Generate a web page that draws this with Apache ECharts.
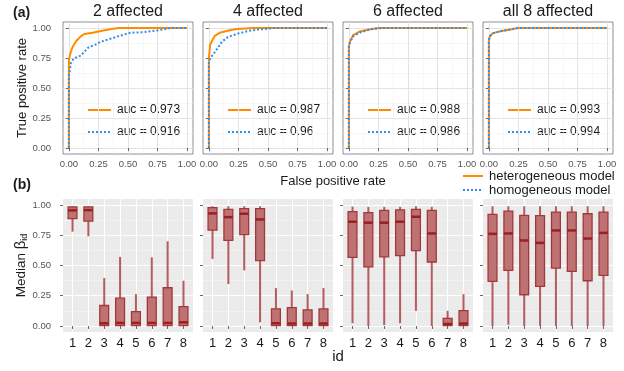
<!DOCTYPE html>
<html>
<head>
<meta charset="utf-8">
<script src="https://cdn.jsdelivr.net/npm/echarts@6/dist/echarts.min.js"></script>
<style>
  html, body { margin: 0; padding: 0; background: #fff; }
  #chart { width: 624px; height: 371px; }
</style>
</head>
<body>
<div id="chart"></div>
<script>
var FONT = '"Liberation Sans", Arial, sans-serif';

// (a) ROC curves, points are [false positive rate, true positive rate]
var panelTitles = ['2 affected', '4 affected', '6 affected', 'all 8 affected'];
var hetRoc2 = [[0, 0], [0, 0.73], [0.01, 0.78], [0.03, 0.84], [0.06, 0.89], [0.1, 0.93], [0.13, 0.95], [0.2, 0.96], [0.27, 0.975], [0.35, 0.99], [0.42, 1], [1, 1]];
var homRoc2 = [[0, 0], [0, 0.6], [0.017, 0.71], [0.04, 0.745], [0.1, 0.77], [0.13, 0.8], [0.16, 0.835], [0.22, 0.86], [0.27, 0.885], [0.35, 0.91], [0.43, 0.935], [0.52, 0.96], [0.63, 0.965], [0.75, 0.98], [0.86, 1], [1, 1]];
var hetRoc4 = [[0, 0], [0, 0.75], [0.01, 0.86], [0.03, 0.9], [0.05, 0.935], [0.09, 0.96], [0.15, 0.975], [0.22, 0.99], [0.37, 1], [1, 1]];
var homRoc4 = [[0, 0], [0, 0.72], [0.02, 0.76], [0.05, 0.8], [0.08, 0.84], [0.11, 0.885], [0.16, 0.925], [0.25, 0.955], [0.33, 0.975], [0.45, 0.99], [0.55, 1], [1, 1]];
var hetRoc6 = [[0, 0], [0, 0.85], [0.01, 0.89], [0.036, 0.94], [0.09, 0.97], [0.18, 0.99], [0.25, 1], [1, 1]];
var homRoc6 = [[0, 0], [0, 0.84], [0.01, 0.885], [0.04, 0.935], [0.1, 0.965], [0.19, 0.99], [0.27, 1], [1, 1]];
var hetRoc8 = [[0, 0], [0, 0.91], [0.01, 0.93], [0.03, 0.955], [0.085, 0.97], [0.17, 0.985], [0.25, 1], [1, 1]];
var homRoc8 = [[0, 0], [0, 0.9], [0.01, 0.935], [0.03, 0.955], [0.09, 0.972], [0.17, 0.986], [0.24, 1], [1, 1]];
var aucHet = ['0.973', '0.987', '0.988', '0.993'];
var aucHom = ['0.916', '0.96', '0.986', '0.994'];
var rateTicks = [0, 0.25, 0.5, 0.75, 1];
var rateMinor = [0.125, 0.375, 0.625, 0.875];

// (b) median beta per id, each row is [low, q1, median, q3, high]
var ids = [1, 2, 3, 4, 5, 6, 7, 8];
var box2 = [[0.78, 0.887, 0.956, 0.985, 0.99], [0.742, 0.867, 0.958, 0.985, 0.99], [0, 0.002, 0.022, 0.169, 0.396], [0, 0.002, 0.025, 0.23, 0.571], [0, 0.002, 0.025, 0.119, 0.263], [0, 0.002, 0.025, 0.239, 0.568], [0, 0.002, 0.025, 0.316, 0.70], [0, 0.002, 0.03, 0.16, 0.374]];
var box4 = [[0.554, 0.792, 0.931, 0.978, 0.99], [0.347, 0.707, 0.90, 0.964, 0.99], [0.46, 0.756, 0.928, 0.97, 0.99], [0.03, 0.54, 0.881, 0.97, 0.99], [0, 0.002, 0.022, 0.141, 0.313], [0, 0.002, 0.02, 0.152, 0.294], [0, 0.002, 0.02, 0.133, 0.263], [0, 0.002, 0.02, 0.141, 0.313]];
var box6 = [[0.022, 0.568, 0.862, 0.945, 0.987], [0, 0.488, 0.854, 0.937, 0.985], [0.008, 0.571, 0.854, 0.956, 0.985], [0.022, 0.582, 0.862, 0.96, 0.985], [0.125, 0.623, 0.903, 0.964, 0.99], [0, 0.529, 0.765, 0.956, 0.985], [0, 0.002, 0.016, 0.062, 0.125], [0, 0.002, 0.02, 0.127, 0.263]];
var box8 = [[0, 0.368, 0.762, 0.923, 0.99], [0.01, 0.46, 0.765, 0.95, 0.99], [0, 0.258, 0.707, 0.914, 0.99], [0, 0.327, 0.687, 0.912, 0.99], [0, 0.479, 0.79, 0.942, 0.99], [0, 0.452, 0.79, 0.942, 0.99], [0, 0.374, 0.723, 0.928, 0.99], [0, 0.418, 0.77, 0.942, 0.99]];

var hetRocs = [hetRoc2, hetRoc4, hetRoc6, hetRoc8];
var homRocs = [homRoc2, homRoc4, homRoc6, homRoc8];
var boxes = [box2, box4, box6, box8];

var ORANGE = '#ff8c00';
var BLUE = '#2f8ff0';
var lefts = [63, 203, 343, 483];
var PW = 130;

var grids = [], xAxes = [], yAxes = [], series = [], graphics = [];

function addAxes(gi, xCfg, yCfg) {
  // major axis: ticks, labels, major grid lines
  xAxes.push(Object.assign({ gridIndex: gi, type: 'value', position: 'bottom' }, xCfg.major));
  yAxes.push(Object.assign({ gridIndex: gi, type: 'value', position: 'left' }, yCfg.major));
  // minor axis: only draws the minor grid lines
  if (xCfg.minor) xAxes.push(Object.assign({ gridIndex: gi, type: 'value', position: 'top' }, xCfg.minor));
  if (yCfg.minor) yAxes.push(Object.assign({ gridIndex: gi, type: 'value', position: 'right' }, yCfg.minor));
}

function minorAxis(min, max, vals, color, width) {
  return {
    min: min, max: max, axisLine: { show: false },
    axisTick: { show: false, customValues: vals },
    axisLabel: { show: false, customValues: vals },
    splitLine: { show: true, lineStyle: { color: color, width: width } }
  };
}

function rateAxis(showLabels, margin, extra) {
  return Object.assign({
    min: -0.05, max: 1.05,
    axisLine: { show: false },
    axisTick: { show: true, customValues: rateTicks, length: 3, lineStyle: { color: '#666', width: 1 } },
    axisLabel: { show: showLabels, customValues: rateTicks, margin: margin, fontSize: 9.5, color: '#555', fontFamily: FONT,
      formatter: function (v) { return v.toFixed(2); } },
    splitLine: { show: true, lineStyle: { color: '#e4e4e4', width: 1 } }
  }, extra || {});
}

// ---- row (a): ROC panels
lefts.forEach(function (l, i) {
  grids.push({ left: l, top: 22, width: PW, height: 132, show: true, backgroundColor: '#fff', borderColor: '#8f8f8f', borderWidth: 1 });
  var xi = xAxes.length, yi = yAxes.length;
  addAxes(i,
    { major: rateAxis(true, 5), minor: minorAxis(-0.05, 1.05, rateMinor, '#f1f1f1', 0.6) },
    { major: rateAxis(i === 0, 12, i === 0 ? {
        name: 'True positive rate', nameLocation: 'middle', nameGap: 31,
        nameTextStyle: { fontSize: 13, color: '#1a1a1a', fontFamily: FONT } } : {}),
      minor: minorAxis(-0.05, 1.05, rateMinor, '#f1f1f1', 0.6) });
  series.push({ type: 'line', name: 'heterogeneous model', xAxisIndex: xi, yAxisIndex: yi, data: hetRocs[i],
    showSymbol: false, symbol: 'none', lineStyle: { color: ORANGE, width: 2 }, animation: false, z: 3 });
  series.push({ type: 'line', name: 'homogeneous model', xAxisIndex: xi, yAxisIndex: yi, data: homRocs[i],
    showSymbol: false, symbol: 'none', lineStyle: { color: BLUE, width: 2, type: [2, 2] }, animation: false, z: 4 });

  // panel title
  graphics.push({ type: 'text', style: { text: panelTitles[i], x: l + PW / 2, y: 12, textAlign: 'center', textVerticalAlign: 'middle',
    font: '16px ' + FONT, fill: '#1a1a1a' } });
  // auc legend inside panel
  graphics.push({ type: 'line', shape: { x1: l + 25, y1: 110, x2: l + 48, y2: 110 }, style: { stroke: ORANGE, lineWidth: 2 } });
  graphics.push({ type: 'line', shape: { x1: l + 25, y1: 132, x2: l + 48, y2: 132 }, style: { stroke: BLUE, lineWidth: 2, lineDash: [2, 2] } });
  graphics.push({ type: 'text', style: { text: 'auc = ' + aucHet[i], x: l + 54, y: 110, textVerticalAlign: 'middle',
    font: '12px ' + FONT, fill: '#1a1a1a' } });
  graphics.push({ type: 'text', style: { text: 'auc = ' + aucHom[i], x: l + 54, y: 132, textVerticalAlign: 'middle',
    font: '12px ' + FONT, fill: '#1a1a1a' } });
});

// ---- row (b): boxplot panels
function renderBox(params, api) {
  var x = api.value(0);
  var lo = api.coord([x, api.value(1)]);
  var q1 = api.coord([x, api.value(2)]);
  var md = api.coord([x, api.value(3)]);
  var q3 = api.coord([x, api.value(4)]);
  var hi = api.coord([x, api.value(5)]);
  var half = api.size([1, 0])[0] * 0.28;
  var cx = lo[0];
  return {
    type: 'group',
    children: [
      { type: 'line', shape: { x1: cx, y1: lo[1], x2: cx, y2: q1[1] }, style: { stroke: '#b65b5d', lineWidth: 2 } },
      { type: 'line', shape: { x1: cx, y1: q3[1], x2: cx, y2: hi[1] }, style: { stroke: '#b65b5d', lineWidth: 2 } },
      { type: 'rect', shape: { x: cx - half, y: q3[1], width: half * 2, height: q1[1] - q3[1] },
        style: { fill: '#bf7274', stroke: '#a3383a', lineWidth: 1.3 } },
      { type: 'line', shape: { x1: cx - half, y1: md[1], x2: cx + half, y2: md[1] }, style: { stroke: '#9a2024', lineWidth: 2.5 } }
    ]
  };
}

lefts.forEach(function (l, i) {
  var gi = 4 + i;
  grids.push({ left: l, top: 199, width: PW, height: 133, show: true, backgroundColor: '#ebebeb', borderWidth: 0 });
  var xi = xAxes.length, yi = yAxes.length;
  addAxes(gi,
    { major: {
        min: 0.4, max: 8.6, axisLine: { show: false },
        axisTick: { show: true, customValues: ids, length: 3, lineStyle: { color: '#666' } },
        axisLabel: { customValues: ids, margin: 5, fontSize: 13, color: '#1a1a1a', fontFamily: FONT },
        splitLine: { show: true, lineStyle: { color: '#ffffff', width: 1.1 } } } },
    { major: rateAxis(i === 0, 12, Object.assign({
        splitLine: { show: true, lineStyle: { color: '#ffffff', width: 1.1 } } },
        i === 0 ? {
          name: 'Median {b|β}{s|id}', nameLocation: 'middle', nameGap: 31,
          nameTextStyle: { fontSize: 13.5, color: '#1a1a1a', fontFamily: FONT,
            rich: { b: { fontSize: 15, fontFamily: FONT, color: '#1a1a1a' },
                    s: { fontSize: 9, fontFamily: FONT, color: '#1a1a1a', verticalAlign: 'bottom', padding: [6, 0, 0, 0] } } } } : {})),
      minor: minorAxis(-0.05, 1.05, rateMinor, '#f6f6f6', 0.6) });
  series.push({
    type: 'custom', xAxisIndex: xi, yAxisIndex: yi, renderItem: renderBox, animation: false,
    encode: { x: 0, y: [1, 2, 3, 4, 5] },
    data: ids.map(function (id, k) { return [id].concat(boxes[i][k]); })
  });
});

// ---- labels and shared legend
graphics.push({ type: 'text', style: { text: '(a)', x: 13, y: 13, textVerticalAlign: 'middle', font: 'bold 14px ' + FONT, fill: '#1a1a1a' } });
graphics.push({ type: 'text', style: { text: '(b)', x: 13, y: 185, textVerticalAlign: 'middle', font: 'bold 14px ' + FONT, fill: '#1a1a1a' } });
graphics.push({ type: 'text', style: { text: 'False positive rate', x: 333, y: 181, textAlign: 'center', textVerticalAlign: 'middle',
  font: '13px ' + FONT, fill: '#1a1a1a' } });
graphics.push({ type: 'text', style: { text: 'id', x: 338, y: 357, textAlign: 'center', textVerticalAlign: 'middle',
  font: '15px ' + FONT, fill: '#1a1a1a' } });
graphics.push({ type: 'line', shape: { x1: 463, y1: 176, x2: 483, y2: 176 }, style: { stroke: ORANGE, lineWidth: 2 } });
graphics.push({ type: 'line', shape: { x1: 463, y1: 190, x2: 483, y2: 190 }, style: { stroke: BLUE, lineWidth: 2, lineDash: [2, 2] } });
graphics.push({ type: 'text', style: { text: 'heterogeneous model', x: 489, y: 176, textVerticalAlign: 'middle',
  font: '13px ' + FONT, fill: '#1a1a1a' } });
graphics.push({ type: 'text', style: { text: 'homogeneous model', x: 489, y: 190, textVerticalAlign: 'middle',
  font: '13px ' + FONT, fill: '#1a1a1a' } });

var chart = echarts.init(document.getElementById('chart'), null, { renderer: 'canvas' });
chart.setOption({
  animation: false,
  backgroundColor: '#ffffff',
  textStyle: { fontFamily: FONT },
  grid: grids,
  xAxis: xAxes,
  yAxis: yAxes,
  series: series,
  graphic: graphics
});
</script>
</body>
</html>
